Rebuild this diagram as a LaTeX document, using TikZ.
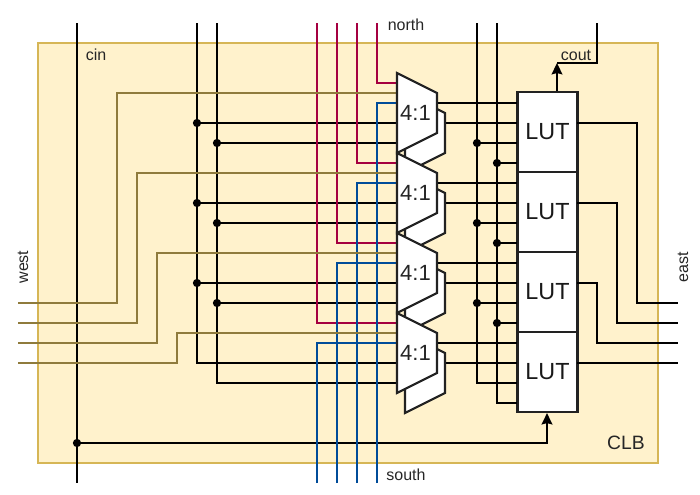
\documentclass[tikz,border=0pt]{standalone}
\usepackage{fontspec}
\setmainfont{Liberation Sans}
\usetikzlibrary{arrows.meta}
\definecolor{clbfill}{HTML}{FFF2CC}
\definecolor{clbline}{HTML}{D6B656}
\definecolor{magw}{HTML}{A50040}
\definecolor{bluew}{HTML}{004C99}
\definecolor{olivew}{HTML}{8F7B3C}
\definecolor{boxline}{HTML}{222222}
\tikzset{
  wire/.style={line width=1.6pt,black},
  magwire/.style={line width=1.6pt,magw},
  bluewire/.style={line width=1.6pt,bluew},
  olivewire/.style={line width=1.6pt,olivew},
  dot/.style={circle,fill=black,inner sep=0pt,minimum size=6.2pt},
  lutbox/.style={draw=boxline,line width=1.6pt,fill=white,minimum width=45pt,minimum height=60pt,inner sep=0pt,font=\fontsize{17.5pt}{19pt}\selectfont,text=black!90},
  muxbody/.style={draw=boxline,line width=1.6pt,fill=white,line join=miter},
  muxtext/.style={font=\fontsize{16.5pt}{18pt}\selectfont,text=black!85,inner sep=0pt},
  lab/.style={font=\fontsize{12pt}{14pt}\selectfont,text=black!85,inner sep=0pt},
  arr/.style={-{Stealth[length=8.5pt,width=8pt,inset=1pt]}},
}
\begin{document}
\begin{tikzpicture}[x=0.75pt,y=-0.75pt]
\useasboundingbox (0,0) rectangle (700,494);
% CLB
\node[draw=clbline,line width=1.5pt,fill=clbfill,minimum width=465pt,minimum height=315pt,inner sep=0pt] (clb) at (348,253) {};

% free-end coordinates
\coordinate (cinT) at (77,23); \coordinate (cinB) at (77,483);
\foreach \x/\n in {197/a,217/b,477/c,497/d}{\coordinate (top\n) at (\x,23);}

% pins of the multiplexers and LUTs
\foreach \i in {0,1,2,3}{
  \pgfmathsetmacro{\o}{80*\i}
  \foreach \n/\y in {mg/83,ol/93,bl/103,p/123,q/143}{\coordinate (m\i\n) at (397,\y+\o);}
  \coordinate (m\i o1) at (437,103+\o);
  \coordinate (m\i o2) at (445,123+\o);
  \foreach \n/\y in {1/103,2/123,3/143,4/163}{\coordinate (l\i i\n) at (517,\y+\o);}
  \node[lutbox] (lut\i) at (547.5,132+\o) {LUT};
}

% cin
\draw[wire] (cinT) -- (cinB);
\node[dot] (cinDot) at (77,443) {};
\draw[wire,arr] (cinDot) -| (lut3.south-|547,0);

% cout
\coordinate (coutT) at (597,23);
\coordinate (coutK) at (557,63);
\draw[wire] (coutT) |- (coutK);
\draw[wire,arr] (lut0.north-|557,0) -- (coutK);

% black buses left
\draw[wire] (topa) |- (m3p);
\draw[wire] (topb) |- (m3q);
\foreach \i/\l in {0,1,2}{
  \node[dot] (da\i) at (197,123+80*\i) {};
  \node[dot] (db\i) at (217,143+80*\i) {};
  \draw[wire] (da\i) -- (m\i p);
  \draw[wire] (db\i) -- (m\i q);
}

% black buses right
\draw[wire] (topc) |- (l3i3);
\draw[wire] (topd) |- (l3i4);
\foreach \i in {0,1,2}{
  \node[dot] (dc\i) at (477,143+80*\i) {};
  \node[dot] (dd\i) at (497,163+80*\i) {};
  \draw[wire] (dc\i) -- (l\i i3);
  \draw[wire] (dd\i) -- (l\i i4);
}

% mux outputs to LUTs
\foreach \i in {0,1,2,3}{
  \draw[wire] (m\i o1) -- (l\i i1);
  \draw[wire] (m\i o2) -- (l\i i2);
}

% LUT outputs to east
\coordinate (e0) at (678,303); \coordinate (e1) at (678,323);
\coordinate (e2) at (678,343); \coordinate (e3) at (678,363);
\draw[wire] (577,123) -| (637,303) -- (e0);
\draw[wire] (577,203) -| (617,323) -- (e1);
\draw[wire] (577,283) -| (597,343) -- (e2);
\draw[wire] (577,363) -- (e3);

% north (magenta)
\foreach \x/\i in {377/0,357/1,337/2,317/3}{
  \coordinate (n\i) at (\x,23);
  \draw[magwire] (n\i) |- (m\i mg);
}
% south (blue)
\foreach \x/\i in {377/0,357/1,337/2,317/3}{
  \coordinate (s\i) at (\x,483);
  \draw[bluewire] (s\i) |- (m\i bl);
}
% west (olive)
\foreach \y/\x/\i in {303/117/0,323/137/1,343/157/2,363/177/3}{
  \coordinate (w\i) at (18,\y);
  \draw[olivewire] (w\i) -| (\x,93+80*\i) -- (m\i ol);
}

% multiplexers
\foreach \i in {0,1,2,3}{
  \begin{scope}[yshift={-60pt*\i}]
    \draw[muxbody] (405,93) -- (445,113) -- (445,153) -- (405,173) -- cycle;
    \draw[muxbody] (397,73) -- (437,93) -- (437,133) -- (397,153) -- cycle;
    \node[muxtext] (mux\i) at (415.5,112.5) {4:1};
  \end{scope}
}

% labels
\node[lab] (lcin) at (96,55) {cin};
\node[lab] (lnorth) at (406,25) {north};
\node[lab] (lsouth) at (406,475) {south};
\node[lab] (lcout) at (576,55) {cout};
\node[lab,rotate=90] (lwest) at (23,267) {west};
\node[lab,rotate=90] (least) at (683,267) {east};
\node[lab,font=\fontsize{14.5pt}{16pt}\selectfont] (lclb) at (626,443) {CLB};
\end{tikzpicture}
\end{document}
